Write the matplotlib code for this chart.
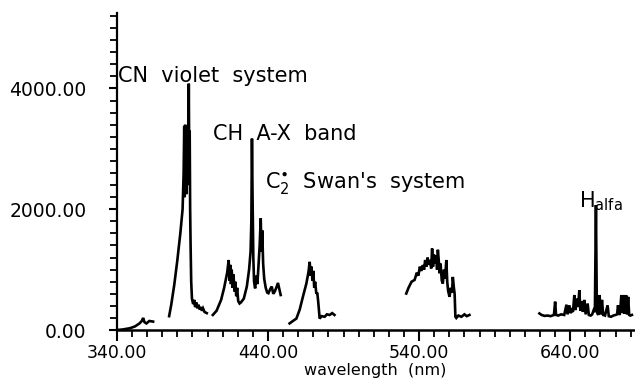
import numpy as np
import matplotlib
matplotlib.use('Agg')
import matplotlib.pyplot as plt
from matplotlib.ticker import MultipleLocator, FixedLocator, FormatStrFormatter

# spectrum pieces, wavelength (nm) / intensity
wl1 = [340, 344, 348.6, 352, 355, 356.5, 357.4, 358.3, 359.6, 361.5, 364]
i1 = [0, 10, 30, 60, 110, 150, 200, 130, 110, 150, 140]

wl2 = [374.6, 376, 378, 380, 382, 383.5, 384.2, 384.6, 384.9, 385.2, 385.5, 385.8, 386.1,
       386.4, 386.7, 387.0, 387.3, 387.6, 387.9, 388.2, 388.5, 388.8, 389.2, 389.7, 390.5,
       391.2, 391.8, 392.5, 393.2, 394, 394.8, 395.5, 396.3, 397, 398, 399.5]
i2 = [230, 420, 750, 1150, 1600, 2000, 2600, 3380, 2200, 3400, 2300, 3350, 2250,
      3300, 2400, 3380, 2500, 4080, 2800, 3300, 2000, 1400, 800, 520, 430,
      500, 380, 460, 360, 420, 340, 380, 320, 360, 300, 280]

wl3 = [403.5, 406, 409, 411, 413, 414.0, 414.5, 415.0, 415.5, 416.0, 416.6, 417.2, 417.8,
       418.4, 419.0, 419.6, 420.3, 421.2, 422.2, 424, 426, 427.5, 428.5, 429.0, 429.4,
       429.8, 430.3, 430.8, 431.5, 432.2, 433, 433.8, 434.5, 435.2, 435.7, 436.2, 436.8,
       437.5, 438.5, 439.5, 440.3, 441.5, 442.5, 443.5, 444.5, 445.5, 446.6, 447.5, 448.4]
i3 = [250, 320, 500, 700, 950, 1160, 820, 1080, 760, 1000, 700, 920, 640,
      800, 560, 700, 480, 440, 460, 520, 720, 1000, 1300, 1800, 3170,
      2200, 1200, 800, 690, 900, 760, 1100, 1400, 1850, 1300, 1650, 1100,
      850, 700, 620, 610, 680, 720, 600, 640, 700, 780, 680, 580]

wl4 = [454.3, 456.5, 458.8, 461, 463.1, 465.4, 466.8, 467.6, 468.2, 468.8, 469.4, 470.0,
       470.6, 471.2, 472.0, 472.6, 473.2, 474.2, 475.5, 477.5, 479, 480.8, 482.5, 484]
i4 = [110, 150, 190, 340, 550, 770, 960, 1130, 900, 1050, 820, 980,
      700, 800, 600, 620, 480, 190, 230, 220, 260, 250, 280, 250]

wl5 = [531.5, 533, 535, 537, 538.5, 539.5, 540.5, 541.5, 542.5, 543.3, 544, 544.8, 545.6,
       546.4, 547.2, 548, 548.6, 549.2, 549.8, 550.5, 551.3, 551.9, 552.4, 553, 553.5,
       554.2, 555, 555.7, 556.5, 557.2, 558, 558.6, 559.2, 560.1, 561, 561.8, 562.3,
       563.0, 563.5, 564, 564.6, 566, 568, 570, 571.5, 573.3]
i5 = [605, 700, 800, 830, 950, 900, 1050, 980, 1075, 1000, 1160, 1050, 1200,
      1080, 1160, 1020, 1350, 1050, 1250, 1100, 1240, 1000, 1330, 1150, 940,
      1100, 820, 770, 1000, 850, 1160, 800, 650, 550, 700, 620, 880,
      700, 600, 220, 200, 240, 220, 260, 230, 250]

wl6 = [619.6, 621, 623, 625, 627, 629.2, 630.0, 630.6, 632, 634, 636, 637.5, 638.2,
       639.4, 640.2, 641, 641.8, 642.7, 643.4, 644.2, 645.2, 646.0, 646.7, 647.6, 648.4,
       649.3, 650.2, 651.5, 652.3, 653.5, 654.5, 655.5, 656.3, 657.0, 657.6, 658.5, 659.4,
       660.2, 661.0, 661.8, 663, 664.7, 665.5, 667, 668.5, 670, 671, 671.6, 672.4, 673.0,
       673.8, 674.6, 675.3, 676.1, 676.9, 677.6, 678.3, 679.0, 679.7, 680.8]
i6 = [275, 250, 235, 240, 230, 250, 470, 250, 240, 260, 250, 420, 260,
      410, 280, 330, 300, 580, 330, 520, 380, 660, 320, 480, 300,
      500, 260, 440, 250, 240, 260, 330, 300, 2070, 300, 250, 580,
      260, 500, 250, 240, 410, 230, 220, 240, 250, 260, 410, 250, 300,
      580, 280, 580, 270, 580, 260, 550, 250, 240, 250]

segments = [(wl1, i1), (wl2, i2), (wl3, i3), (wl4, i4), (wl5, i5), (wl6, i6)]

x_major = [340, 440, 540, 640]
x_minor = list(range(340, 690, 10))

fig = plt.figure(figsize=(6.35, 3.82), dpi=100)
ax = fig.add_axes([0.184, 0.136, 0.814, 0.83])

for w, v in segments:
    ax.plot(w, v, color='black', lw=1.9, solid_joinstyle='miter')

ax.set_xlim(340, 682)
ax.set_ylim(0, 5250)

ax.spines['top'].set_visible(False)
ax.spines['right'].set_visible(False)
ax.spines['left'].set_linewidth(1.6)
ax.spines['bottom'].set_linewidth(1.8)

ax.xaxis.set_major_locator(FixedLocator(x_major))
ax.xaxis.set_minor_locator(FixedLocator(x_minor))
ax.yaxis.set_major_locator(MultipleLocator(2000))
ax.yaxis.set_minor_locator(MultipleLocator(200))
ax.xaxis.set_major_formatter(FormatStrFormatter('%.2f'))
ax.yaxis.set_major_formatter(FormatStrFormatter('%.2f'))

ax.tick_params(axis='x', which='major', direction='out', length=8, width=1.5, pad=2, labelsize=12.5)
ax.tick_params(axis='x', which='minor', direction='out', length=5, width=1.3)
ax.tick_params(axis='y', which='major', direction='out', length=6, width=1.5, pad=16, labelsize=13.5)
ax.tick_params(axis='y', which='minor', direction='out', length=5, width=1.3)

ax.set_xlabel('wavelength  (nm)', fontsize=11.5)
ax.xaxis.set_label_coords(0.5, -0.103)

ax.text(340.7, 4100, 'CN  violet  system', fontsize=15, va='baseline')
ax.text(403.4, 3140, 'CH  A-X  band', fontsize=15, va='baseline')
ax.text(437.8, 2360, r"C$_2^{\bullet}$  Swan's  system", fontsize=15, va='baseline')
ax.text(646, 2030, r'H$_{\mathrm{alfa}}$', fontsize=15, va='baseline')

fig.savefig('out.png', dpi=100)
